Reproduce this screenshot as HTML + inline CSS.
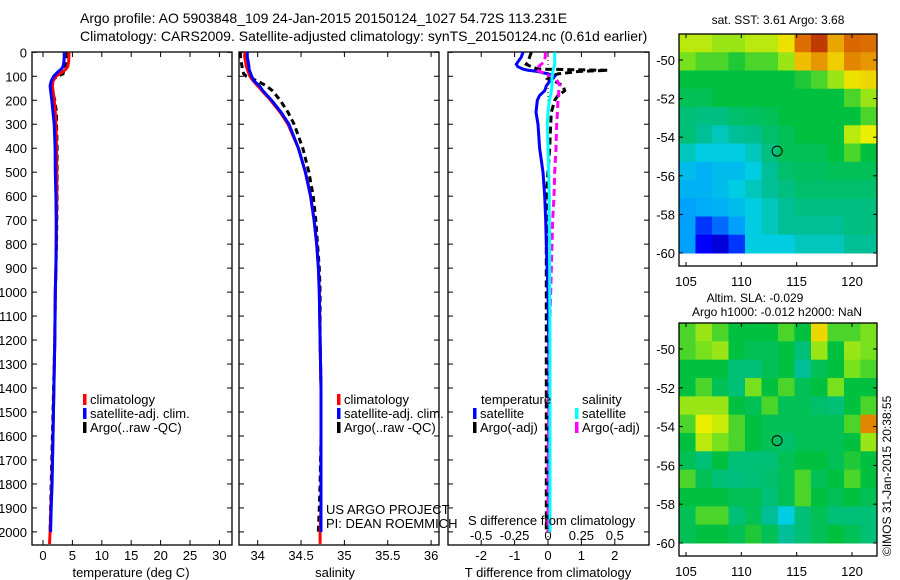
<!DOCTYPE html>
<html><head><meta charset="utf-8">
<style>
body{margin:0;background:#fff;}
svg{display:block;font-family:"Liberation Sans",sans-serif;}
</style></head>
<body>
<svg id="c" width="900" height="580" viewBox="0 0 900 580">
<text x="80" y="23" font-size="14">Argo profile: AO 5903848_109 24-Jan-2015 20150124_1027 54.72S 113.231E</text>
<text x="80" y="41" font-size="14">Climatology: CARS2009. Satellite-adjusted climatology: synTS_20150124.nc (0.61d earlier)</text>
<g id="g"></g>
</svg>
<script>
// ---- profile data ----
const depthT = [0,20,40,60,70,80,90,100,120,140,160,200,250,300,400,500,600,700,800,900,1000,1200,1400,1600,1800,1900,2000,2050];
const climT = [4.4,4.4,4.35,4.2,3.9,3.4,2.8,2.2,1.7,1.6,1.7,1.9,2.1,2.2,2.3,2.35,2.35,2.3,2.25,2.2,2.1,2.0,1.85,1.7,1.5,1.35,1.2,1.1];
const satT = [3.6,3.6,3.55,3.4,3.1,2.6,2.2,1.8,1.4,1.2,1.3,1.5,1.7,1.9,2.05,2.1,2.2,2.25,2.25,2.2,2.1,2.0,1.85,1.7,1.55,1.4,1.3,null];
const argoT = [4.1,4.1,4.0,3.9,3.7,3.5,3.4,2.4,1.5,1.4,1.6,2.0,2.3,2.3,2.4,2.4,2.4,2.35,2.3,2.2,2.1,2.0,1.8,1.6,1.4,1.3,1.2,null];
const climS = [33.85,33.85,33.86,33.87,33.88,33.89,33.9,33.91,33.95,34.0,34.05,34.15,34.26,34.35,34.47,34.55,34.61,34.65,34.68,34.7,34.71,34.72,34.73,34.73,34.73,34.73,34.72,34.72];
const satS = [33.88,33.88,33.89,33.9,33.9,33.91,33.92,33.93,33.96,34.02,34.06,34.16,34.27,34.36,34.47,34.55,34.61,34.65,34.68,34.7,34.71,34.72,34.73,34.73,34.73,34.73,34.73,null];
const argoS = [33.8,33.8,33.81,33.82,33.82,33.83,33.84,33.87,34.0,34.1,34.17,34.26,34.35,34.42,34.52,34.59,34.64,34.67,34.69,34.71,34.72,34.72,34.73,34.73,34.72,34.71,34.7,null];
const depthD = [0,20,40,50,60,70,75,80,90,100,110,120,140,160,180,200,250,300,400,500,600,700,800,1000,1200,1500,1800,2000];
const satTd = [-0.75,-0.8,-0.9,-0.95,-0.9,-0.75,-0.6,-0.3,0.0,0.2,0.15,0.05,-0.05,-0.1,-0.25,-0.32,-0.36,-0.3,-0.25,-0.15,-0.1,-0.07,-0.05,0,0.02,0.03,0.03,0.05];
const argoTd = [-0.5,-0.55,-0.6,-0.65,-0.5,-0.3,1.8,0.9,0.3,0.1,0.0,0.2,0.45,0.5,0.3,0.2,0.1,0.08,0.05,0.0,-0.05,0,-0.05,-0.05,-0.05,-0.05,-0.05,-0.05];
const satSd = [0.05,0.05,0.05,0.05,0.045,0.04,0.04,0.035,0.035,0.03,0.03,0.03,0.03,0.025,0.02,0.01,0.0,-0.005,0.0,0.005,0.01,0.01,0.012,0.013,0.015,0.015,0.015,0.015];
const argoSd = [-0.02,-0.02,-0.03,-0.05,-0.07,-0.09,-0.08,-0.06,-0.02,0.02,0.05,0.07,0.09,0.08,0.08,0.075,0.07,0.065,0.06,0.05,0.045,0.035,0.03,0.02,0.01,0.005,0.0,0.0];
const depthTicks = [0,100,200,300,400,500,600,700,800,900,1000,1100,1200,1300,1400,1500,1600,1700,1800,1900,2000];
const tTicks = [0,5,10,15,20,25,30];
const sTicks = [34,34.5,35,35.5,36];
const sTickLabels = ["34","34.5","35","35.5","36"];
const dTTicks = [-2,-1,0,1,2];
const dSTicks = [-0.5,-0.25,0,0.25,0.5];
const dSTickLabels = ["-0.5","-0.25","0","0.25","0.5"];
// ---- map data (colour index 0..1) ----
const sstGrid = [
[.62,.62,.6,.6,.62,.62,.68,.85,.92,.78,.86,.85],
[.58,.55,.55,.52,.55,.55,.6,.75,.8,.72,.82,.8],
[.5,.5,.5,.5,.5,.5,.5,.52,.55,.6,.68,.7],
[.48,.48,.5,.5,.5,.5,.5,.5,.5,.5,.55,.6],
[.45,.44,.44,.46,.47,.48,.5,.5,.5,.5,.5,.55],
[.45,.42,.4,.42,.43,.46,.48,.5,.5,.5,.62,.65],
[.4,.38,.38,.38,.4,.44,.48,.48,.48,.5,.55,.5],
[.35,.33,.35,.35,.38,.42,.46,.47,.47,.48,.48,.48],
[.33,.33,.35,.38,.4,.42,.44,.46,.46,.46,.46,.46],
[.3,.32,.33,.35,.38,.4,.42,.44,.44,.44,.44,.44],
[.3,.2,.25,.3,.38,.4,.42,.42,.42,.42,.44,.44],
[.3,.15,.1,.2,.38,.38,.38,.4,.4,.4,.42,.42]];
const slaGrid = [
[.55,.6,.55,.5,.5,.5,.55,.5,.7,.55,.55,.58],
[.55,.58,.6,.5,.48,.48,.5,.45,.6,.5,.6,.58],
[.5,.5,.5,.45,.45,.48,.5,.42,.48,.5,.58,.55],
[.5,.55,.48,.45,.58,.5,.55,.48,.5,.58,.5,.5],
[.6,.6,.6,.5,.48,.55,.48,.48,.46,.45,.5,.55],
[.55,.65,.63,.55,.5,.48,.48,.48,.48,.48,.55,.82],
[.5,.62,.58,.55,.5,.48,.46,.48,.48,.48,.5,.6],
[.48,.45,.5,.45,.45,.45,.48,.5,.5,.48,.52,.5],
[.55,.48,.45,.44,.45,.46,.48,.55,.48,.5,.55,.5],
[.5,.5,.5,.48,.48,.45,.48,.55,.5,.48,.5,.48],
[.48,.55,.55,.45,.48,.42,.38,.45,.48,.45,.45,.45],
[.48,.5,.5,.48,.52,.48,.42,.45,.48,.5,.48,.45]];
const lonTicks = [105,110,115,120];
const latTicks = [-50,-52,-54,-56,-58,-60];
const argoLon = 113.231, argoLat = -54.72;

const NS="http://www.w3.org/2000/svg";
const G=document.getElementById('g');
function el(t,a,p){const e=document.createElementNS(NS,t);for(const k in a)e.setAttribute(k,a[k]);(p||G).appendChild(e);return e;}
function txt(x,y,s,size,anchor){const e=el('text',{x:x,y:y,'font-size':size||13,'text-anchor':anchor||'start'});e.textContent=s;return e;}
const yD=d=>52.3+d*0.2398;
const P1={x0:32,x1:232}, P2={x0:239,x1:439}, P3={x0:448,x1:649};
const xT=v=>43+v*5.88;
const xS=v=>257.7+(v-34)*86.7;
const xDT=v=>548+v*33.4;
const xDS=v=>548+v*4*33.4;
const Y0=52,Y1=545;

function frame(P,name){
  const r=el('rect',{x:P.x0,y:Y0,width:P.x1-P.x0,height:Y1-Y0,fill:'none',stroke:'#000','stroke-width':1.3});
  
  
  depthTicks.forEach(d=>{el('line',{x1:P.x0,x2:P.x0+5,y1:yD(d),y2:yD(d),stroke:'#000'});el('line',{x1:P.x1,x2:P.x1-5,y1:yD(d),y2:yD(d),stroke:'#000'});});
}
function xticks(P,ticks,labels,fx,yl){
  ticks.forEach((t,i)=>{const x=fx(t);el('line',{x1:x,x2:x,y1:Y0,y2:Y0+5,stroke:'#000'});el('line',{x1:x,x2:x,y1:Y1,y2:Y1-5,stroke:'#000'});
    const e=txt(x,yl,labels[i],13,'middle');
    
    });
}
function line(xs,ds,fx,color,dash,name){
  let pts=[];for(let i=0;i<xs.length;i++){if(xs[i]==null)continue;pts.push(fx(xs[i]).toFixed(1)+','+yD(ds[i]).toFixed(1));}
  const a={points:pts.join(' '),fill:'none',stroke:color,'stroke-width':3};
  if(dash)a['stroke-dasharray']=dash;
  const p=el('polyline',a);
  
  
}
// Panel 1
frame(P1,'temperature-panel');
depthTicks.forEach(d=>{const e=txt(27,yD(d)+5,String(d),13,'end');});
xticks(P1,tTicks,tTicks.map(String),xT,560);
line(argoT,depthT,xT,'#000','6,4','argo-temperature-line');
line(climT,depthT,xT,'#f00',null,'climatology-temperature-line');
line(satT,depthT,xT,'#00f',null,'satellite-temperature-line');
let e=txt(131,577,'temperature (deg C)',13,'middle');
// Panel 2
frame(P2,'salinity-panel');
xticks(P2,sTicks,sTickLabels,xS,560);
line(argoS,depthT,xS,'#000','6,4','argo-salinity-line');
line(climS,depthT,xS,'#f00',null,'climatology-salinity-line');
line(satS,depthT,xS,'#00f',null,'satellite-salinity-line');
e=txt(335,577,'salinity',13,'middle');
e=txt(326,514,'US ARGO PROJECT',13);
e=txt(326,528,'PI: DEAN ROEMMICH',13);
// Panel 3
frame(P3,'difference-panel');
el('line',{x1:548,x2:548,y1:Y0,y2:Y1,stroke:'#000','stroke-dasharray':'1,3'});
xticks(P3,dTTicks,dTTicks.map(String),xDT,560);
dSTicks.forEach((t,i)=>{const x=xDS(t);const e=txt(x,540,dSTickLabels[i],13,'middle');});
line(argoTd,depthD,xDT,'#000','7,4','argo-temperature-diff-line');
line(satTd,depthD,xDT,'#00f',null,'satellite-temperature-diff-line');
line(argoSd,depthD,xDS,'#f0f','7,4','argo-salinity-diff-line');
line(satSd,depthD,xDS,'#0ff',null,'satellite-salinity-diff-line');
e=txt(548,577,'T difference from climatology',13,'middle');
e=txt(468,525,'S difference from climatology',13);
// legends
function leg(x,y,c,s,name){el('rect',{x:x,y:y-10,width:3.5,height:11,fill:c});const t=txt(x+7,y,s,13);}
leg(83,404,'#f00','climatology','legend-climatology');leg(83,418,'#00f','satellite-adj. clim.','legend-satellite');leg(83,432,'#000','Argo(..raw -QC)','legend-argo');
leg(337,404,'#f00','climatology','legend-climatology-2');leg(337,418,'#00f','satellite-adj. clim.','legend-satellite-2');leg(337,432,'#000','Argo(..raw -QC)','legend-argo-2');
e=txt(481,404,'temperature',13);
e=txt(582,404,'salinity',13);
leg(473,418,'#00f','satellite','legend-t-satellite');leg(473,432,'#000','Argo(-adj)','legend-t-argo');
leg(575,418,'#0ff','satellite','legend-s-satellite');leg(575,432,'#f0f','Argo(-adj)','legend-s-argo');

// colormap
const stops=[[0,[0,0,140]],[.15,[0,0,255]],[.3,[0,160,255]],[.38,[0,205,225]],[.42,[0,190,150]],[.5,[0,192,64]],[.58,[120,225,30]],[.65,[235,240,0]],[.75,[240,190,0]],[.85,[220,110,0]],[1,[160,0,0]]];
function cmap(v){for(let i=1;i<stops.length;i++){if(v<=stops[i][0]){const a=stops[i-1],b=stops[i],t=(v-a[0])/(b[0]-a[0]);return 'rgb('+a[1].map((c,k)=>Math.round(c+(b[1][k]-c)*t)).join(',')+')';}}return 'rgb(160,0,0)';}
function map(M,grid,name){
  const lonX=l=>686+(l-105)*(166/15);
  const latY=l=>M.y50+(-50-l)*M.k;
  const top=M.top, bottom=latY(-60);
  const rows=grid.length, cols=grid[0].length;
  const cw=(M.x1-M.x0)/cols, ch=(bottom-top)/rows;
  grid.forEach((row,r)=>row.forEach((v,c)=>{
    const cell=el('rect',{x:(M.x0+c*cw).toFixed(2),y:(top+r*ch).toFixed(2),width:(cw+0.5).toFixed(2),height:(ch+0.5).toFixed(2),fill:cmap(v)});
    
    
  }));
  const f=el('rect',{x:M.x0,y:M.top,width:M.x1-M.x0,height:M.bot-M.top,fill:'none',stroke:'#000','stroke-width':1.3});
  
  
  lonTicks.forEach(l=>{const x=lonX(l);el('line',{x1:x,x2:x,y1:M.bot,y2:M.bot-4,stroke:'#000'});el('line',{x1:x,x2:x,y1:M.top,y2:M.top+4,stroke:'#000'});
    const t=txt(x,M.bot+20,String(l),13,'middle');});
  latTicks.forEach(l=>{const y=latY(l);el('line',{x1:M.x0,x2:M.x0+4,y1:y,y2:y,stroke:'#000'});el('line',{x1:M.x1,x2:M.x1-4,y1:y,y2:y,stroke:'#000'});
    const t=txt(675,y+5,String(l),13,'end');});
  const c=el('circle',{cx:lonX(argoLon),cy:latY(argoLat),r:5,fill:'none',stroke:'#000','stroke-width':1});
  
  
}
map({x0:679,x1:877,top:34,bot:266,y50:60,k:19.3},sstGrid,'sst-map');
map({x0:679,x1:877,top:323,bot:556,y50:349,k:19.4},slaGrid,'sla-map');
e=txt(778,24,'sat. SST: 3.61  Argo: 3.68',12,'middle');
e=txt(755,302,'Altim. SLA: -0.029',12,'middle');
e=txt(777,316,'Argo h1000: -0.012 h2000: NaN',12,'middle');
e=txt(0,0,'©IMOS 31-Jan-2015 20:38:55',12,'start');e.setAttribute('transform','translate(891,556) rotate(-90)');

</script>
</body></html>
